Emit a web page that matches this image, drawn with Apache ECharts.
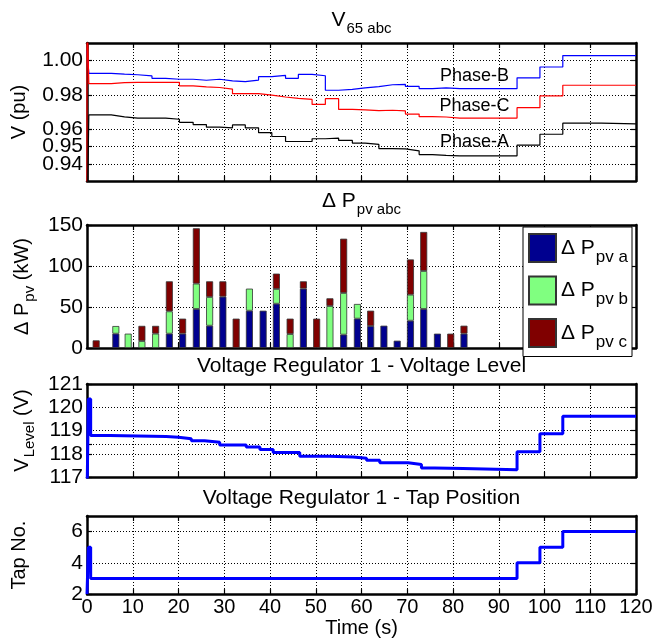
<!DOCTYPE html>
<html>
<head>
<meta charset="utf-8">
<script src="https://cdn.jsdelivr.net/npm/echarts@6/dist/echarts.min.js"></script>
<style>
  html, body { margin: 0; padding: 0; background: #fff; }
  #chart { width: 659px; height: 639px; }
</style>
</head>
<body>
<div id="chart"></div>
<script>
/* ========== data ========== */

// V65 abc, step values (pu), value holds from time[i] to time[i+1]
const vTime = [0, 0, 0.4, 5.3, 8.2, 11.1, 14.2, 17.2, 20.2, 23.2, 26.1, 29.0, 31.8, 34.6, 37.5, 40.4, 43.4, 46.2,
  49.2, 52.1, 55.0, 58.0, 60.8, 63.8, 66.8, 69.6, 72.6, 75.5, 78.5, 81.5, 94, 99, 104, 112.4, 120]
const phaseA = [0.90, 0.90, 0.9683, 0.9672, 0.9665, 0.9665, 0.9665, 0.9658, 0.9640, 0.9627, 0.9612, 0.9608, 0.9625,
  0.9608, 0.9580, 0.9558, 0.9529, 0.9529, 0.9545, 0.9548, 0.9535, 0.9520, 0.9512, 0.9488, 0.9486, 0.9475, 0.9453,
  0.9448, 0.9446, 0.9446, 0.9508, 0.9571, 0.9635, 0.9631, 0.9631]
const phaseB = [1.0055, 1.0055, 0.9924, 0.9919, 0.9916, 0.9909, 0.9895, 0.9890, 0.9890, 0.9884, 0.9890, 0.9880, 0.9876,
  0.9885, 0.9905, 0.9912, 0.9895, 0.9918, 0.9910, 0.9826, 0.9831, 0.9840, 0.9847, 0.9858, 0.9860, 0.9848, 0.9836,
  0.9840, 0.9836, 0.9835, 0.9898, 0.9961, 1.0027, 1.0027, 1.0027]
const phaseC = [0.90, 1.03, 0.9864, 0.9870, 0.9872, 0.9872, 0.9872, 0.9872, 0.9852, 0.9846, 0.9842, 0.9833, 0.9806,
  0.9806, 0.9798, 0.9787, 0.9779, 0.9773, 0.9744, 0.9777, 0.9715, 0.9712, 0.9708, 0.9710, 0.9706, 0.9688, 0.9673,
  0.9671, 0.9665, 0.9665, 0.9725, 0.9793, 0.9855, 0.9855, 0.9855]

// Delta P pv abc (kW), stacked bars
const pvTime = [2, 6.3, 9, 12, 15, 18, 20.9, 23.9, 26.8, 29.7, 32.6, 35.5, 38.5, 41.4, 44.4, 47.3, 50.2, 53.1, 56.1,
  59.1, 62, 64.9, 67.8, 70.7, 73.6, 76.6, 79.5, 82.4]
const pvA = [0, 17.5, 0, 0, 0, 17.5, 17.5, 47.6, 27.2, 62.6, 0, 45.5, 45.5, 54, 0, 72.4, 0, 0, 16.3, 35.8, 26.8, 27.2,
  8.9, 33.3, 47.6, 17.5, 0, 17.5]
const pvB = [0, 9.3, 17.5, 8.5, 17.5, 27.2, 0, 30.9, 35, 0, 0, 26.9, 0, 18, 17, 0, 0, 51.2, 50.8, 17.9, 0, 0, 0, 31.7,
  46.3, 0, 0, 0]
const pvC = [9.3, 0, 0, 18.5, 9.5, 36.6, 18.3, 67.5, 19.1, 18.7, 35.8, 0, 0, 18.7, 18.8, 8.9, 35.8, 9.4, 66.2, 0, 18.7,
  0, 0, 43, 47.6, 0, 17.5, 9.7]

// Voltage regulator 1 - voltage level (V)
const regTime = [0, 0.3, 0.8, 5.0, 17.3, 20.0, 22.8, 25.7, 29.0, 34.8, 37.8, 40.7, 46.5, 53.0, 58.2, 61.1, 64.0, 70.2,
  73.1, 76.0, 82.2, 94, 99, 104, 120]
const regVolt = [116, 120.35, 118.78, 118.74, 118.71, 118.65, 118.56, 118.49, 118.38, 118.29, 118.18, 118.05, 117.89,
  117.86, 117.81, 117.72, 117.61, 117.54, 117.39, 117.37, 117.31, 118.09, 118.86, 119.61, 119.61]

// Voltage regulator 1 - tap position
const tapTime = [0, 0.3, 0.8, 94, 99, 104, 120]
const tapNo = [2, 5, 3, 4, 5, 6, 6]

// ticks and tick labels
const vTicks = [0.94, 0.95, 0.96, 0.98, 1.00]
const vLabels = [0.94, 0.96, 0.98, 1.00]
const vLabelsExtra = [0.95]   // too close to 0.94 for echarts' overlap check, drawn on a helper axis
const pvTicks = [0, 50, 100, 150]
const regLabels = [117, 118, 119, 120, 121]
const regTicks = [117, 118, 118.4, 119, 120, 121]
const tapTicks = [2, 4, 6]

/* ========== helpers ========== */

const FONT = '"Liberation Sans", Arial, Helvetica, sans-serif'

function pairs(xs, ys) {
  return xs.map((x, i) => [x, ys[i]])
}

function rich(main, sub) {
  return {
    m: { fontFamily: FONT, fontSize: main, lineHeight: main, verticalAlign: 'top', color: '#000' },
    s: { fontFamily: FONT, fontSize: sub, lineHeight: sub, verticalAlign: 'top', color: '#000',
      padding: [Math.round(main * 0.5), 0, 0, 1] }
  }
}

const grids = [
  { left: 87, top: 43, width: 549, height: 138 },
  { left: 87, top: 225, width: 549, height: 123 },
  { left: 87, top: 384, width: 549, height: 93 },
  { left: 87, top: 516, width: 549, height: 84 }
]

const dotted = { color: '#000', width: 1, type: [1, 2] }
const frame = { show: true, onZero: false, lineStyle: { color: '#000', width: 2.5 } }
const tickStyle = { show: true, inside: true, length: 5, lineStyle: { color: '#000', width: 1.2 } }

function xAxes() {
  const bottom = grids.map((g, i) => ({
    gridIndex: i, type: 'value', min: 0, max: 120, interval: 10, position: 'bottom',
    axisLine: frame,
    axisTick: tickStyle,
    axisLabel: { show: i === 3, margin: 3, fontSize: 20, fontFamily: FONT, color: '#000',
      showMinLabel: true, showMaxLabel: true },
    splitLine: { show: true, lineStyle: dotted },
    name: i === 3 ? 'Time (s)' : '',
    nameLocation: 'middle', nameGap: 20,
    nameTextStyle: { fontSize: 20, fontFamily: FONT, color: '#000' }
  }))
  const top = grids.map((g, i) => ({
    gridIndex: i, type: 'value', min: 0, max: 120, interval: 10, position: 'top',
    axisLine: frame, axisTick: tickStyle,
    axisLabel: { show: false }, splitLine: { show: false }
  }))
  return bottom.concat(top)
}

const yDefs = [
  { min: 0.93, max: 1.01, labels: vLabels, ticks: vTicks, fmt: v => v.toFixed(2),
    name: '{m|V (pu)}', gap: 58 },
  { min: 0, max: 150, labels: pvTicks, ticks: pvTicks, fmt: v => String(v),
    name: '{m|Δ P}{s|pv}{m| (kW)}', gap: 52 },
  { min: 117, max: 121, labels: regLabels, ticks: regTicks, fmt: v => String(Math.round(v)),
    name: '{m|V}{s|Level}{m| (V)}', gap: 54 },
  { min: 2, max: 7, labels: tapTicks, ticks: tapTicks, fmt: v => String(v),
    name: '{m|Tap No.}', gap: 58 }
]

const yLabelStyle = { margin: 4, fontSize: 21, fontFamily: FONT, color: '#000', hideOverlap: false,
  showMinLabel: true, showMaxLabel: true }

function yAxes() {
  const left = yDefs.map((d, i) => ({
    gridIndex: i, type: 'value', min: d.min, max: d.max, position: 'left',
    axisLine: frame,
    axisTick: Object.assign({}, tickStyle, { customValues: d.ticks }),
    axisLabel: Object.assign({}, yLabelStyle, { customValues: d.labels, formatter: d.fmt }),
    splitLine: { show: true, lineStyle: dotted },
    name: d.name, nameLocation: 'middle', nameRotate: 90, nameGap: d.gap,
    nameTextStyle: { rich: rich(20, 15) }
  }))
  const right = yDefs.map((d, i) => ({
    gridIndex: i, type: 'value', min: d.min, max: d.max, position: 'right',
    axisLine: frame,
    axisTick: Object.assign({}, tickStyle, { customValues: d.ticks }),
    axisLabel: { show: false }, splitLine: { show: false }
  }))
  const helper = {
    gridIndex: 0, type: 'value', min: yDefs[0].min, max: yDefs[0].max, position: 'left',
    axisLine: { show: false }, axisTick: { show: false }, splitLine: { show: false },
    axisLabel: Object.assign({}, yLabelStyle, { customValues: vLabelsExtra, formatter: yDefs[0].fmt })
  }
  return left.concat(right, [helper])
}

function phaseLine(name, values, color, label, at) {
  return {
    name, type: 'line', step: 'end', xAxisIndex: 0, yAxisIndex: 0,
    data: pairs(vTime, values), showSymbol: false, symbol: 'none',
    lineStyle: { color, width: 1.2 }, itemStyle: { color },
    markPoint: {
      silent: true, symbol: 'circle', symbolSize: 0,
      label: { show: true, position: 'inside', formatter: label, fontSize: 18, fontFamily: FONT, color: '#000' },
      data: [{ coord: at }]
    }
  }
}

// value first so that the stack runs on the y dimension
function pvBar(name, values, color) {
  return {
    name, type: 'bar', stack: 'pv', xAxisIndex: 1, yAxisIndex: 1, barWidth: 7,
    encode: { x: 1, y: 0 },
    data: pvTime.map((t, i) => [values[i] ? values[i] : null, t]),
    itemStyle: { color, borderColor: '#333', borderWidth: 0.8 }
  }
}

function title(text, y) {
  return {
    type: 'text', x: 361.5, y,
    style: { text, align: 'center', verticalAlign: 'top', rich: rich(21, 15) }
  }
}

/* ========== chart ========== */

const option = {
  animation: false,
  backgroundColor: '#fff',
  grid: grids,
  xAxis: xAxes(),
  yAxis: yAxes(),
  legend: {
    data: ['pv a', 'pv b', 'pv c'],
    orient: 'vertical', left: 523, top: 227,
    itemWidth: 27, itemHeight: 28, itemGap: 10,
    padding: [6, 4, 6, 5],
    backgroundColor: '#fff', borderColor: '#000', borderWidth: 1, borderRadius: 0,
    selectedMode: false, icon: 'rect',
    formatter: name => '{m|Δ P}{s|' + name + '}',
    textStyle: { rich: rich(21, 17) }
  },
  graphic: [
    title('{m|V}{s|65 abc}', 10),
    title('{m|Δ P}{s|pv abc}', 191),
    title('{m|Voltage Regulator 1 - Voltage Level}', 356),
    title('{m|Voltage Regulator 1 - Tap Position}', 488)
  ],
  series: [
    phaseLine('B', phaseB, '#0000FF', 'Phase-B', [84.7, 0.991]),
    phaseLine('C', phaseC, '#FF0000', 'Phase-C', [84.7, 0.9736]),
    phaseLine('A', phaseA, '#000000', 'Phase-A', [84.7, 0.9524]),
    pvBar('pv a', pvA, '#00008F'),
    pvBar('pv b', pvB, '#80FF80'),
    pvBar('pv c', pvC, '#800000'),
    {
      name: 'reg', type: 'line', step: 'end', xAxisIndex: 2, yAxisIndex: 2,
      data: pairs(regTime, regVolt), showSymbol: false, symbol: 'none',
      lineStyle: { color: '#0000FF', width: 3 }
    },
    {
      name: 'tap', type: 'line', step: 'end', xAxisIndex: 3, yAxisIndex: 3,
      data: pairs(tapTime, tapNo), showSymbol: false, symbol: 'none',
      lineStyle: { color: '#0000FF', width: 3 }
    }
  ]
}

const chart = echarts.init(document.getElementById('chart'), null, { renderer: 'canvas' })
chart.setOption(option)
</script>
</body>
</html>
